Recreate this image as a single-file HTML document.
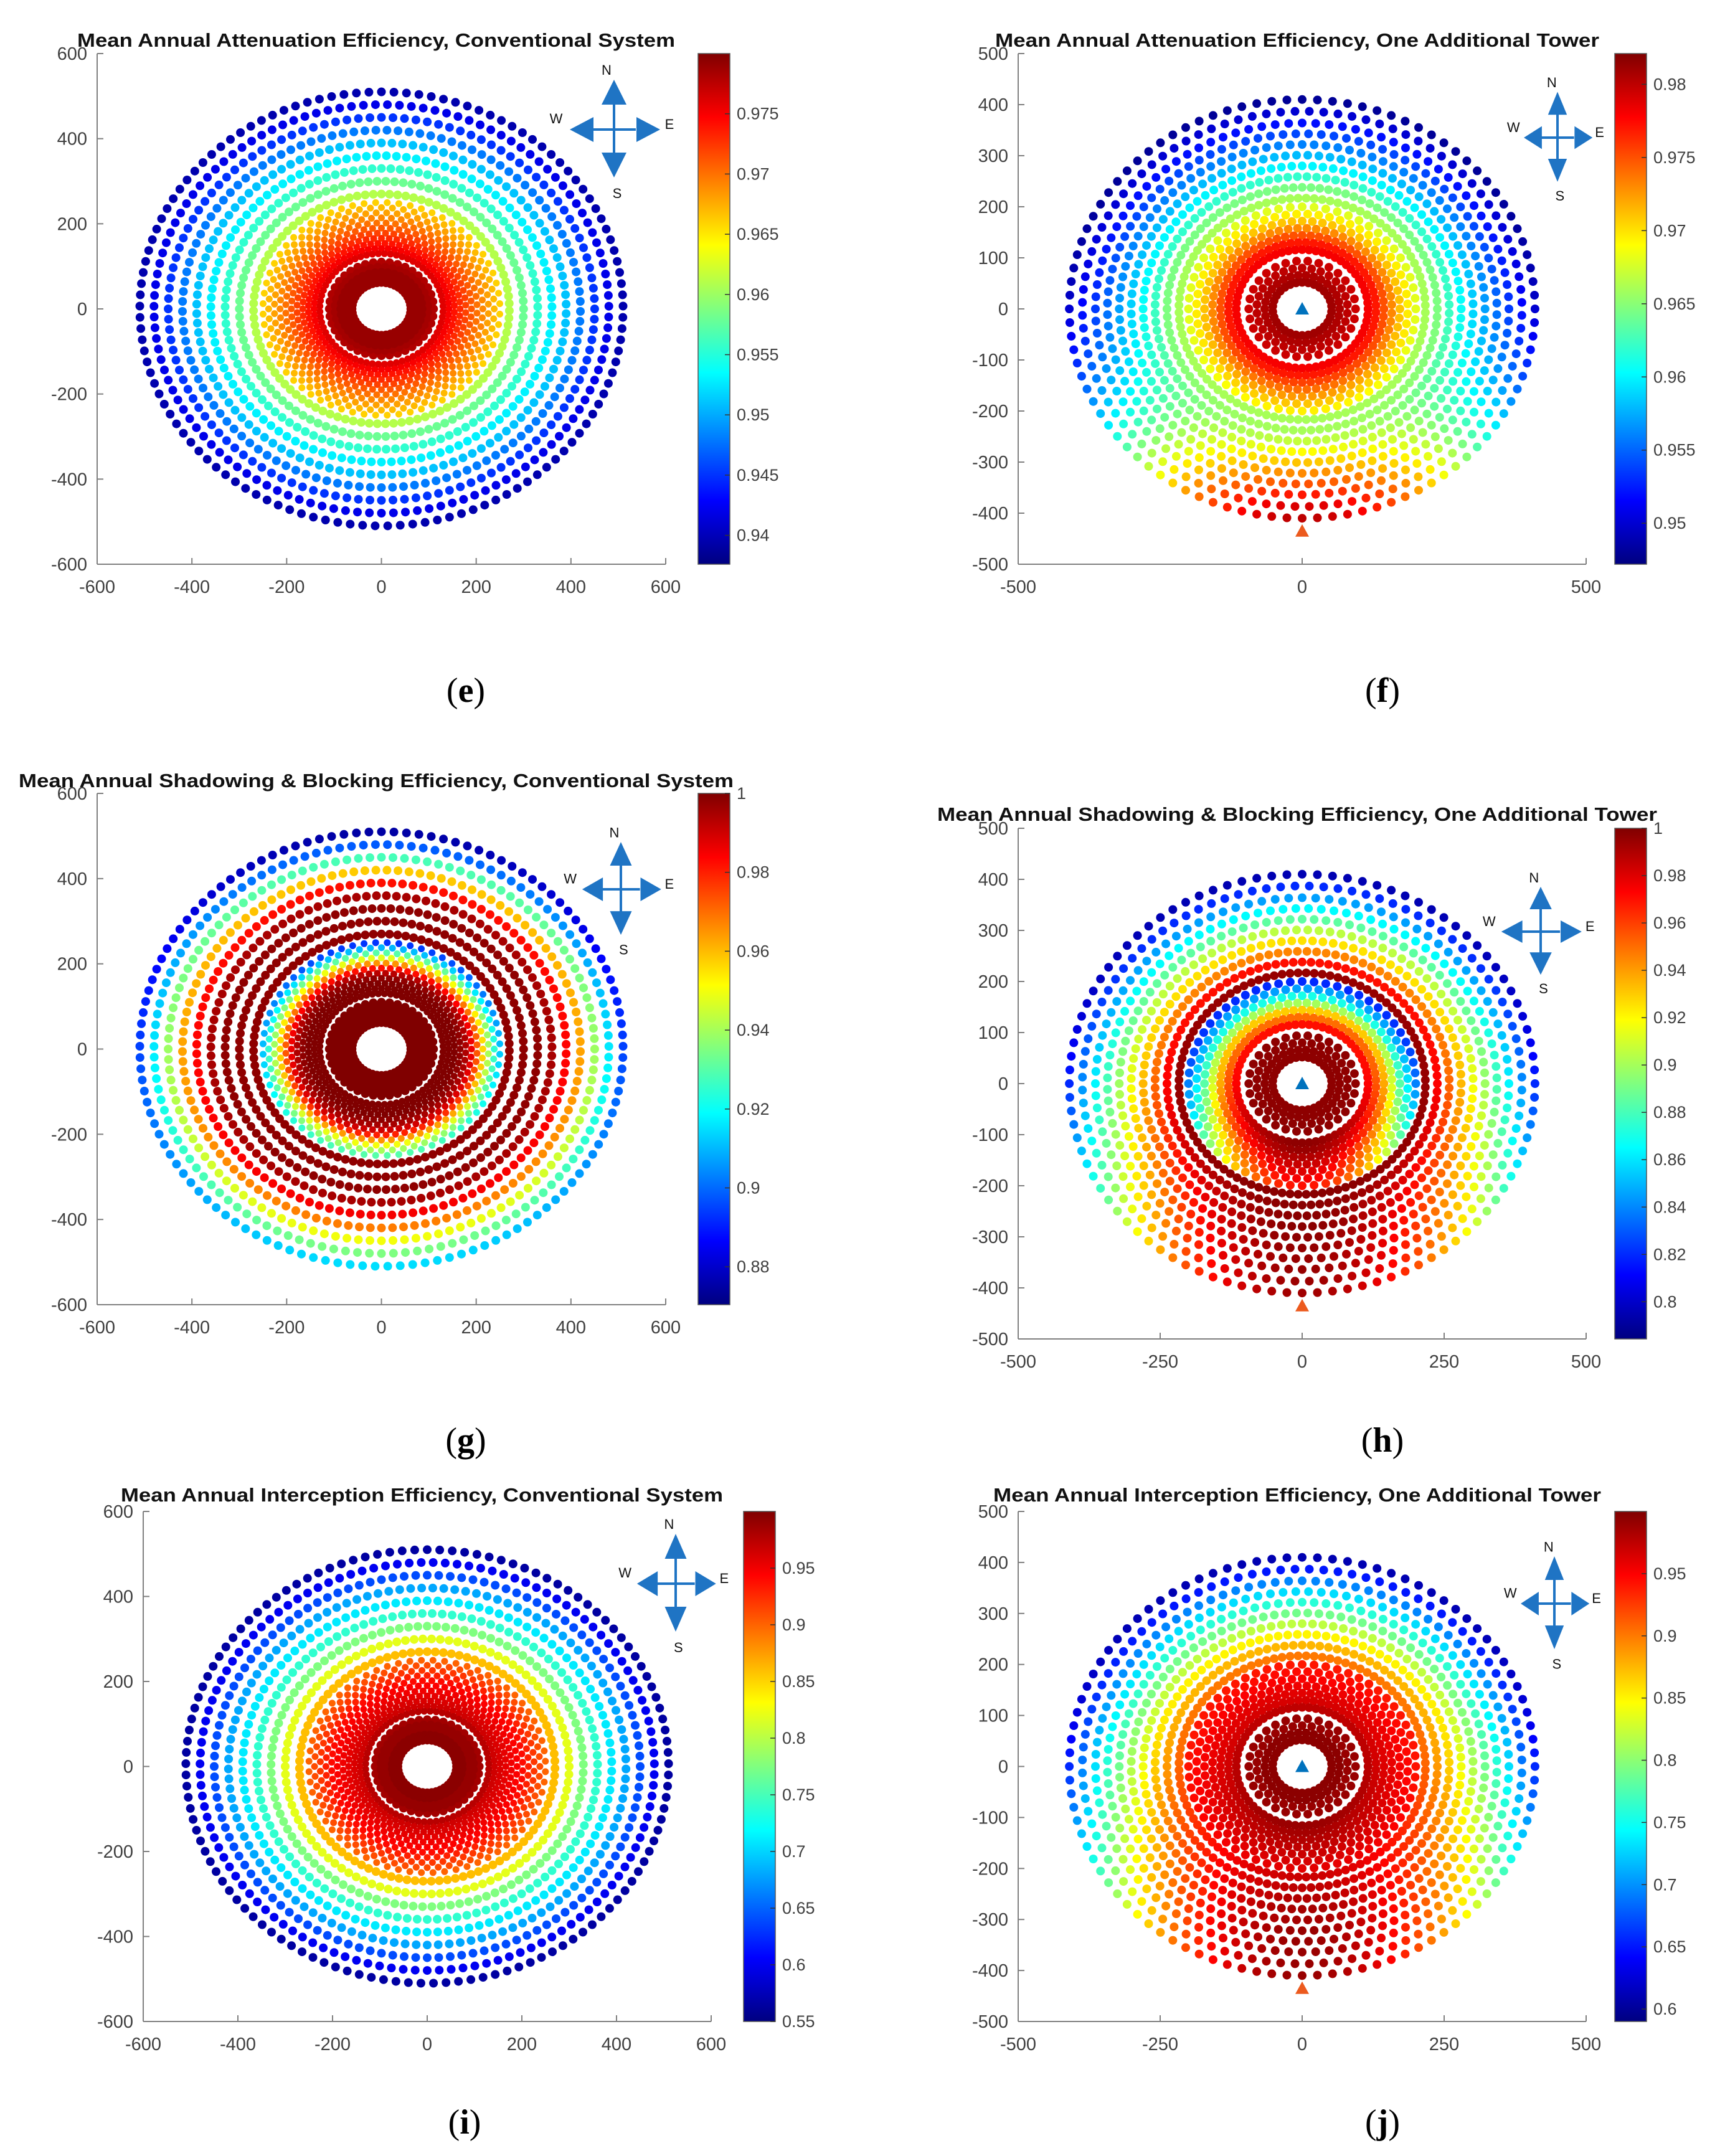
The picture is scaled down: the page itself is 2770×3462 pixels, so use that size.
<!DOCTYPE html>
<html><head><meta charset="utf-8">
<style>
html,body{margin:0;padding:0;background:#fff;}
svg{display:block;}
text{font-family:"Liberation Sans",Arial,sans-serif;}
.cap{font-family:"Liberation Serif","Times New Roman",serif;font-size:56px;fill:#000;}
</style></head>
<body>
<svg id="fig" xmlns="http://www.w3.org/2000/svg" width="2770" height="3462" viewBox="0 0 2770 3462">
<defs>
<linearGradient id="jetGrad" x1="0" y1="1" x2="0" y2="0">
<stop offset="0" stop-color="#000080"/><stop offset="0.125" stop-color="#0000ff"/>
<stop offset="0.375" stop-color="#00ffff"/><stop offset="0.625" stop-color="#ffff00"/>
<stop offset="0.875" stop-color="#ff0000"/><stop offset="1" stop-color="#800000"/>
</linearGradient>
</defs>
<rect x="0" y="0" width="2770" height="3462" fill="#fff"/>
</svg>
<script>
// ---- layout data (field coordinates, metres) ----
const convRadii=[62,74,86,98,110,130,142,154,166,178,190,202,214,226,238,250,270,300,330,360,390,420,450,480,510];
const addRadii=[52,66,80,94,116,130,144,158,172,186,200,217,238,259,280,301,322,343,364,387,410];
// ---- ring efficiency values (north side / south side) ----
const eN=[0.979,0.979,0.979,0.9785,0.978,0.976,0.975,0.974,0.973,0.972,0.971,0.970,0.969,0.968,0.967,0.966,0.961,0.958,0.9555,0.953,0.951,0.948,0.945,0.942,0.9395];
const eS=[0.979,0.979,0.979,0.9785,0.978,0.976,0.975,0.974,0.973,0.972,0.971,0.970,0.969,0.968,0.967,0.966,0.961,0.958,0.9555,0.953,0.951,0.948,0.945,0.942,0.9395];
const fN=[0.981,0.9805,0.980,0.9795,0.978,0.977,0.975,0.973,0.971,0.9695,0.968,0.966,0.9645,0.962,0.96,0.958,0.956,0.954,0.952,0.95,0.948];
const fS=[0.981,0.9805,0.980,0.9795,0.978,0.977,0.9755,0.974,0.9725,0.971,0.9695,0.966,0.966,0.967,0.969,0.971,0.973,0.975,0.977,0.979,0.980];
const gN=[1,1,1,1,1,1,1,1,0.998,0.993,0.982,0.965,0.948,0.93,0.91,0.893,0.998,0.998,0.998,0.995,0.982,0.958,0.928,0.898,0.875];
const gS=[1,1,1,1,1,1,1,1,0.998,0.995,0.99,0.98,0.965,0.95,0.94,0.93,0.998,0.998,0.998,0.995,0.985,0.968,0.95,0.935,0.915];
const hN=[0.997,0.997,0.997,0.997,0.97,0.95,0.93,0.9,0.87,0.845,0.82,0.995,0.97,0.945,0.925,0.905,0.885,0.865,0.845,0.82,0.795];
const hS=[0.997,0.997,0.997,0.997,0.997,0.995,0.99,0.985,0.98,0.975,0.97,0.998,0.998,0.998,0.998,0.997,0.996,0.995,0.995,0.994,0.993];
const iN=[0.995,0.995,0.99,0.99,0.985,0.975,0.965,0.96,0.955,0.95,0.945,0.94,0.93,0.92,0.91,0.90,0.86,0.82,0.775,0.74,0.71,0.68,0.64,0.60,0.565];
const iS=[0.995,0.995,0.99,0.99,0.985,0.975,0.965,0.96,0.955,0.95,0.945,0.94,0.93,0.92,0.91,0.90,0.86,0.82,0.775,0.74,0.71,0.68,0.64,0.60,0.565];
const jN=[0.995,0.995,0.99,0.99,0.975,0.965,0.96,0.955,0.95,0.945,0.94,0.90,0.875,0.85,0.82,0.79,0.76,0.73,0.695,0.65,0.61];
const jS=[0.995,0.995,0.99,0.99,0.99,0.985,0.98,0.975,0.97,0.965,0.96,0.97,0.975,0.98,0.985,0.985,0.99,0.99,0.99,0.99,0.99];
// ---- tick labels ----
const convTicks=[-600,-400,-200,0,200,400,600];
const addYTicks=[-500,-400,-300,-200,-100,0,100,200,300,400,500];
const fXTicks=[-500,0,500];
const hjXTicks=[-500,-250,0,250,500];
const eCb=[0.94,0.945,0.95,0.955,0.96,0.965,0.97,0.975];
const fCb=[0.95,0.955,0.96,0.965,0.97,0.975,0.98];
const gCb=[0.88,0.9,0.92,0.94,0.96,0.98,1];
const hCb=[0.8,0.82,0.84,0.86,0.88,0.9,0.92,0.94,0.96,0.98,1];
const iCb=[0.55,0.6,0.65,0.7,0.75,0.8,0.85,0.9,0.95];
const jCb=[0.6,0.65,0.7,0.75,0.8,0.85,0.9,0.95];
const cbRanges={e:[0.9376,0.980],f:[0.9472,0.9821],g:[0.8704,1],h:[0.7843,1],i:[0.55,1.0],j:[0.59,1.0]};

const NS="http://www.w3.org/2000/svg";
const svg=document.getElementById('fig');
function mk(tag,attrs,parent){const el=document.createElementNS(NS,tag);for(const k in attrs)el.setAttribute(k,attrs[k]);(parent||svg).appendChild(el);return el;}
function cl(x){return Math.max(0,Math.min(1,x));}
function jet(t){t=cl(t);const r=cl(1.5-Math.abs(4*t-3)),g=cl(1.5-Math.abs(4*t-2)),b=cl(1.5-Math.abs(4*t-1));
 return 'rgb('+Math.round(r*255)+','+Math.round(g*255)+','+Math.round(b*255)+')';}
function fmt(v){return String(Number(v.toFixed(3)));}

const panels=[
 {id:'e',L:156,R:1069,T:86,B:906,xr:[-600,600],yr:[-600,600],xt:convTicks,yt:convTicks,cbx:1121,cbt:eCb,N:eN,S:eS,k:1,layout:'conv',dr:7,
  title:'Mean Annual Attenuation Efficiency, Conventional System',tx0:124,tx1:1084,ty:75,cap:'e',cx:748,cy:1127,comp:[986,208,1,1],towers:false},
 {id:'f',L:1635,R:2547,T:86,B:906,xr:[-500,500],yr:[-500,500],xt:fXTicks,yt:addYTicks,cbx:2593,cbt:fCb,N:fN,S:fS,k:4,layout:'add',dr:7,
  title:'Mean Annual Attenuation Efficiency, One Additional Tower',tx0:1598,tx1:2568,ty:75,cap:'f',cx:2220,cy:1127,comp:[2501,221,0.76,0.92],towers:true},
 {id:'g',L:156,R:1069,T:1274,B:2095,xr:[-600,600],yr:[-600,600],xt:convTicks,yt:convTicks,cbx:1121,cbt:gCb,N:gN,S:gS,k:1,layout:'conv',dr:7,
  title:'Mean Annual Shadowing & Blocking Efficiency, Conventional System',tx0:30,tx1:1178,ty:1264,cap:'g',cx:748,cy:2331,comp:[997,1428,0.875,0.95],towers:false},
 {id:'h',L:1635,R:2547,T:1330,B:2150,xr:[-500,500],yr:[-500,500],xt:hjXTicks,yt:addYTicks,cbx:2593,cbt:hCb,N:hN,S:hS,k:3,layout:'add',dr:7,
  title:'Mean Annual Shadowing & Blocking Efficiency, One Additional Tower',tx0:1505,tx1:2661,ty:1318,cap:'h',cx:2220,cy:2331,comp:[2474,1496,0.89,0.9],towers:true},
 {id:'i',L:230,R:1142,T:2427,B:3246,xr:[-600,600],yr:[-600,600],xt:convTicks,yt:convTicks,cbx:1194,cbt:iCb,N:iN,S:iS,k:1,layout:'conv',dr:7,
  title:'Mean Annual Interception Efficiency, Conventional System',tx0:194,tx1:1161,ty:2411,cap:'i',cx:746,cy:3426,comp:[1085,2543,0.875,1],towers:false},
 {id:'j',L:1635,R:2547,T:2427,B:3246,xr:[-500,500],yr:[-500,500],xt:hjXTicks,yt:addYTicks,cbx:2593,cbt:jCb,N:jN,S:jS,k:3,layout:'add',dr:7,
  title:'Mean Annual Interception Efficiency, One Additional Tower',tx0:1595,tx1:2571,ty:2411,cap:'j',cx:2220,cy:3426,comp:[2496,2575,0.76,0.95],towers:true}
];

function ringCount(layout,i,r){
 if(layout==='conv'){ if(i<5) return 40; if(i<16) return 64; return Math.round(74+0.093*r); }
 if(i<4) return 30; if(i<11) return 60; return 96;
}
function dotR(p,i){ return (p.layout==='conv' && i>=5 && i<16) ? 5.5 : p.dr; }

panels.forEach(p=>{
 const g=mk('g',{});
 
 
 const sx=x=>p.L+(x-p.xr[0])/(p.xr[1]-p.xr[0])*(p.R-p.L);
 const sy=y=>p.B-(y-p.yr[0])/(p.yr[1]-p.yr[0])*(p.B-p.T);
 const rng=cbRanges[p.id];
 const cmap=v=>jet((v-rng[0])/(rng[1]-rng[0]));
 const t=mk('text',{x:p.tx0,y:p.ty,'font-size':31,'font-weight':'bold',fill:'#111',textLength:p.tx1-p.tx0,lengthAdjust:'spacingAndGlyphs'},g);
 t.textContent=p.title;
 
 
 const ax=mk('g',{stroke:'#808080','stroke-width':2,fill:'none'},g);
 
 
 mk('line',{x1:p.L,y1:p.T,x2:p.L,y2:p.B},ax);
 mk('line',{x1:p.L,y1:p.B,x2:p.R,y2:p.B},ax);
 p.xt.forEach(v=>{
  const l=mk('line',{x1:sx(v),y1:p.B,x2:sx(v),y2:p.B-10},ax);
  
  
  const tl=mk('text',{x:sx(v),y:p.B+46,'font-size':29,fill:'#404040','text-anchor':'middle'},g);
  tl.textContent=String(v);
  
  
 });
 p.yt.forEach(v=>{
  const l=mk('line',{x1:p.L,y1:sy(v),x2:p.L+10,y2:sy(v)},ax);
  
  
  const tl=mk('text',{x:p.L-16,y:sy(v)+10,'font-size':29,fill:'#404040','text-anchor':'end'},g);
  tl.textContent=String(v);
  
  
 });
 const dots=mk('g',{},g);
 
 
 const radii=p.layout==='conv'?convRadii:addRadii;
 for(let i=radii.length-1;i>=0;i--){
  const r=radii[i], n=ringCount(p.layout,i,r), off=(i%2)*Math.PI/n, rr=dotR(p,i);
  for(let m=0;m<n;m++){
   const th=2*Math.PI*m/n+off+Math.PI/2;
   const w=Math.pow((1-Math.sin(th))/2,p.k);
   const v=p.N[i]+w*(p.S[i]-p.N[i]);
   const c=mk('circle',{cx:sx(r*Math.cos(th)).toFixed(1),cy:sy(r*Math.sin(th)).toFixed(1),r:rr,fill:cmap(v)},dots);
   
   
  }
 }
 if(p.towers){
  const x0=sx(0),y0=sy(0);
  const tw=mk('polygon',{points:(x0-11)+','+(y0+9)+' '+(x0+11)+','+(y0+9)+' '+x0+','+(y0-11),fill:'#0072BD'},g);
  
  
  const x1=sx(0),y1=sy(-435);
  const tw2=mk('polygon',{points:(x1-11)+','+(y1+9)+' '+(x1+11)+','+(y1+9)+' '+x1+','+(y1-11),fill:'#EC5A1E'},g);
  
  
 }
 const cbw=51;
 const cb=mk('rect',{x:p.cbx,y:p.T,width:cbw,height:p.B-p.T,fill:'url(#jetGrad)',stroke:'#555','stroke-width':1.5},g);
 
 
 p.cbt.forEach(v=>{
  const y=p.B-(v-rng[0])/(rng[1]-rng[0])*(p.B-p.T);
  const l=mk('line',{x1:p.cbx+cbw-8,y1:y,x2:p.cbx+cbw,y2:y,stroke:'#333','stroke-width':1.5},g);
  
  
  const tl=mk('text',{x:p.cbx+cbw+11,y:y+9,'font-size':27,fill:'#404040'},g);
  tl.textContent=fmt(v);
  
  
 });
 const [cx,cy,ks,kv]=p.comp;
 const cg=mk('g',{fill:'#1F74C4',stroke:'none'},g);
 
 
 const X=d=>cx+d*ks, Y=d=>cy+d*kv;
 mk('rect',{x:X(0)-2,y:Y(-42),width:4,height:(Y(40)-Y(-42))},cg);
 mk('rect',{x:X(-35),y:Y(0)-2,width:(X(35)-X(-35)),height:4},cg);
 mk('polygon',{points:X(0)+','+Y(-80)+' '+X(-20)+','+Y(-40)+' '+X(20)+','+Y(-40)},cg);
 mk('polygon',{points:X(0)+','+Y(77)+' '+X(-20)+','+Y(37)+' '+X(20)+','+Y(37)},cg);
 mk('polygon',{points:X(-71)+','+Y(0)+' '+X(-33)+','+Y(-20)+' '+X(-33)+','+Y(20)},cg);
 mk('polygon',{points:X(74)+','+Y(0)+' '+X(36)+','+Y(-20)+' '+X(36)+','+Y(20)},cg);
 [['N',-12,-88],['S',5,110],['W',-93,-10],['E',89,-1]].forEach(a=>{
  const tl=mk('text',{x:X(a[1]),y:Y(a[2]),'font-size':22,fill:'#111','text-anchor':'middle'},g);
  tl.textContent=a[0];
  
  
 });
 const capt=mk('text',{x:p.cx,y:p.cy,'text-anchor':'middle','class':'cap'},g);
 
 
 const a1=mk('tspan',{},capt);a1.textContent='(';
 const a2=mk('tspan',{'font-weight':'bold'},capt);a2.textContent=p.cap;
 const a3=mk('tspan',{},capt);a3.textContent=')';
});
</script>
</body></html>
